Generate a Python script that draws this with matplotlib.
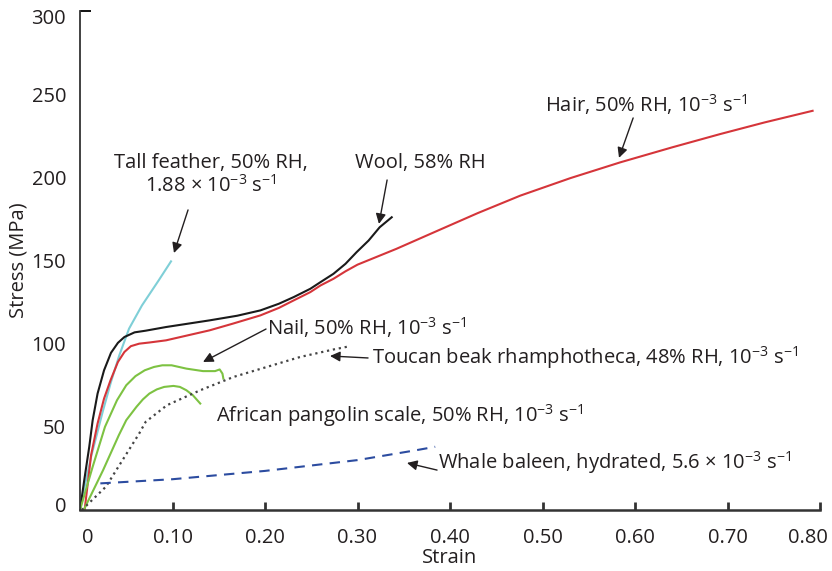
import matplotlib
matplotlib.use("Agg")
import matplotlib.pyplot as plt
from matplotlib.transforms import ScaledTranslation

plt.rcParams['font.family'] = ['Open Sans', 'DejaVu Sans']
plt.rcParams['mathtext.fontset'] = 'custom'
plt.rcParams['mathtext.rm'] = 'Open Sans'
plt.rcParams['mathtext.default'] = 'regular'

TXT = '#231f20'

# ---- data (strain, stress in MPa) ----
feather_strain = [0, 0.005, 0.012, 0.0245, 0.0335, 0.0425, 0.053, 0.067, 0.085, 0.099]
feather_stress = [0, 14, 32, 59, 77, 93, 109, 123, 138, 150]

wool_strain = [0, 0.0046, 0.010, 0.0137, 0.019, 0.026, 0.0335, 0.041, 0.048, 0.059, 0.071,
               0.093, 0.14, 0.17, 0.195, 0.215, 0.231, 0.249, 0.26, 0.274, 0.287, 0.299,
               0.312, 0.324, 0.337]
wool_stress = [0, 18, 38, 54, 70, 84, 94.5, 100.5, 104, 106.8, 107.8,
               110, 114, 116.8, 120, 124, 128, 133, 137, 142, 148, 155,
               162, 170, 176]

hair_strain = [0.005, 0.012, 0.019, 0.026, 0.033, 0.041, 0.048, 0.055, 0.064, 0.075, 0.093,
               0.14, 0.165, 0.195, 0.215, 0.231, 0.249, 0.26, 0.274, 0.287, 0.300, 0.342,
               0.389, 0.43, 0.476, 0.53, 0.584, 0.64, 0.692, 0.74, 0.792]
hair_stress = [0, 33, 52, 67, 78, 89, 95, 98.5, 100, 100.7, 102,
               108, 112, 117, 121.5, 126, 131, 135, 139, 143.5, 147.5, 157,
               168.5, 178.5, 189, 199.5, 209, 218, 226, 233, 240]

nail_strain = [0, 0.0137, 0.027, 0.04, 0.05, 0.06, 0.07, 0.08, 0.089, 0.099, 0.115, 0.133,
               0.146, 0.151, 0.154, 0.155]
nail_stress = [0, 26, 50, 66, 75, 80.5, 84, 86, 87, 87, 85, 83.5,
               83.5, 84.5, 82, 79]

pangolin_strain = [0.004, 0.025, 0.042, 0.05, 0.061, 0.068, 0.075, 0.083, 0.091, 0.101,
                   0.108, 0.115, 0.122, 0.130]
pangolin_stress = [0, 24, 45, 54, 62, 66.5, 70, 72.5, 74, 74.6,
                   74, 72, 69, 64]

toucan_strain = [0.002, 0.028, 0.046, 0.064, 0.071, 0.094, 0.13, 0.166, 0.202, 0.238, 0.274, 0.292]
toucan_stress = [0, 14, 30, 46, 53, 63, 72, 80, 86, 92, 96.5, 98.5]

whale_strain = [0.022, 0.1, 0.2, 0.3, 0.364, 0.384]
whale_stress = [16, 18.5, 23.5, 30, 36, 38]

x_ticks = [0, 0.1, 0.2, 0.3, 0.4, 0.5, 0.6, 0.7, 0.8]
x_labels = ['0', '0.10', '0.20', '0.30', '0.40', '0.50', '0.60', '0.70', '0.80']
y_ticks = [0, 50, 100, 150, 200, 250, 300]
y_labels = ['0', '50', '100', '150', '200', '250', '300']

fig = plt.figure(figsize=(8.32, 5.71), dpi=100)
ax = fig.add_axes([80/832, 1-510/571, 740/832, 499/571])
ax.set_xlim(0, 0.8)
ax.set_ylim(0, 300)

lw = 1.5
ax.plot(feather_strain, feather_stress, color='#7fcfd7', lw=lw, solid_capstyle='butt')
ax.plot(hair_strain, hair_stress, color='#d5353a', lw=lw, solid_joinstyle='round')
ax.plot(wool_strain, wool_stress, color='#1a1a1a', lw=lw, solid_joinstyle='round')
ax.plot(nail_strain, nail_stress, color='#7dc242', lw=lw, solid_joinstyle='round')
ax.plot(pangolin_strain, pangolin_stress, color='#7dc242', lw=lw, solid_joinstyle='round')
ax.plot(toucan_strain, toucan_stress, color='#444444', lw=1.6, linestyle=(0, (1, 1.7)))
ax.plot(whale_strain, whale_stress, color='#2c4ca0', lw=lw, linestyle=(0, (5, 3.5)))

for s in ['top', 'right']:
    ax.spines[s].set_visible(False)
for s in ['left', 'bottom']:
    ax.spines[s].set_color('#333333')
    ax.spines[s].set_linewidth(1.3)
ax.spines['bottom'].set_linewidth(1.8)

fs = 14.5
ax.set_xticks(x_ticks)
ax.set_xticklabels(x_labels)
ax.set_yticks(y_ticks)
ax.set_yticklabels(y_labels)
ax.tick_params(axis='x', direction='in', length=6, width=2, color='#333333',
               labelsize=fs, labelcolor=TXT, pad=13)
ax.tick_params(axis='y', direction='in', length=0, labelsize=fs, labelcolor=TXT, pad=10)
ax.xaxis.get_major_ticks()[0].tick1line.set_visible(False)
yt = ax.yaxis.get_major_ticks()
yt[-1].tick1line.set_markersize(8)
yt[-1].tick1line.set_markeredgewidth(1.3)
xl = ax.get_xticklabels()
xl[0].set_transform(xl[0].get_transform() + ScaledTranslation(8/100, 0, fig.dpi_scale_trans))
xl[-1].set_transform(xl[-1].get_transform() + ScaledTranslation(-12/100, 0, fig.dpi_scale_trans))
yl = ax.get_yticklabels()
yl[0].set_transform(yl[0].get_transform() + ScaledTranslation(0, 6/100, fig.dpi_scale_trans))
yl[-1].set_transform(yl[-1].get_transform() + ScaledTranslation(0, -6/100, fig.dpi_scale_trans))

ax.set_xlabel('Strain', fontsize=fs, color=TXT)
ax.set_ylabel('Stress (MPa)', fontsize=fs, color=TXT)
ax.xaxis.set_label_coords(370/740, -38/499)
ax.yaxis.set_label_coords(-51/740, 250/499)

def arrow(tail, head):
    ax.annotate('', xy=head, xytext=tail,
                arrowprops=dict(arrowstyle='-|>', color=TXT, lw=1.0,
                                mutation_scale=15, shrinkA=0, shrinkB=0))

ax.text(0.1416, 201.4, 'Tall feather, 50% RH,\n1.88 × 10$^{-3}$ s$^{-1}$', fontsize=fs,
        color=TXT, ha='center', va='center', multialignment='center', linespacing=1.15)
arrow((0.1168, 180.4), (0.1016, 154.5))

ax.text(0.2973, 208.7, 'Wool, 58% RH', fontsize=fs, color=TXT, ha='left', va='center')
arrow((0.332, 198.4), (0.3232, 172))

ax.text(0.5027, 243.5, 'Hair, 50% RH, 10$^{-3}$ s$^{-1}$', fontsize=fs, color=TXT,
        ha='left', va='center')
arrow((0.598, 235.7), (0.5827, 211.7))

ax.text(0.2022, 109.4, 'Nail, 50% RH, 10$^{-3}$ s$^{-1}$', fontsize=fs, color=TXT,
        ha='left', va='center')
arrow((0.2011, 108.8), (0.133, 89))

ax.text(0.3157, 91.4, 'Toucan beak rhamphotheca, 48% RH, 10$^{-3}$ s$^{-1}$', fontsize=fs,
        color=TXT, ha='left', va='center')
arrow((0.3114, 91.4), (0.2703, 92.6))

ax.text(0.147, 56.5, 'African pangolin scale, 50% RH, 10$^{-3}$ s$^{-1}$', fontsize=fs,
        color=TXT, ha='left', va='center')

ax.text(0.387, 28.3, 'Whale baleen, hydrated, 5.6 × 10$^{-3}$ s$^{-1}$', fontsize=fs,
        color=TXT, ha='left', va='center')
arrow((0.386, 24), (0.3535, 28.3))

fig.savefig('out.png', dpi=100)
